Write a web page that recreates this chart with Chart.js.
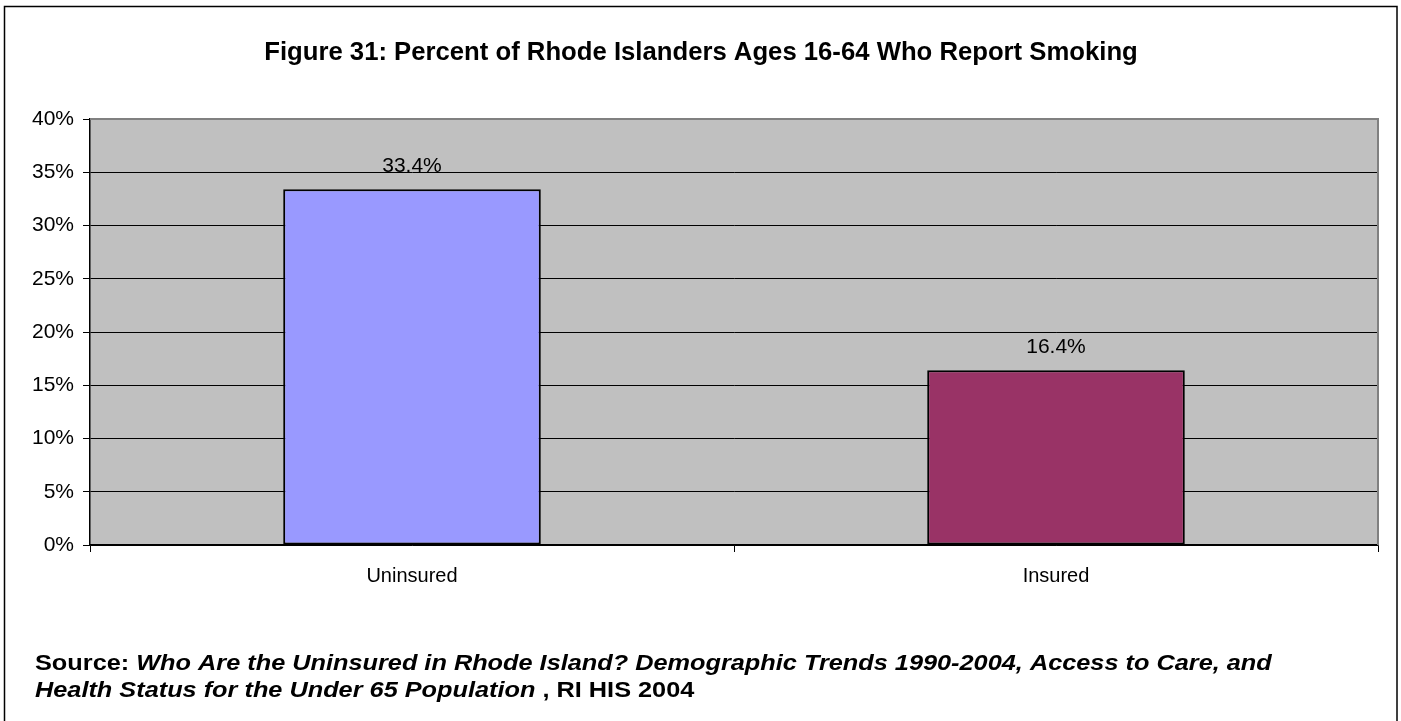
<!DOCTYPE html>
<html lang="en">
<head>
  <meta charset="UTF-8" />
  <title>Smoking by Insurance Status</title>
  <style>
    body {
      margin: 0;
      background-color: #ffffff;
    }
    #wrap {
      width: 1401px;
      height: 721px;
    }
  </style>
</head>
<body>
  <div id="wrap">
    <canvas id="smokingChart" width="1401" height="721"></canvas>
  </div>

  <script src="https://cdn.jsdelivr.net/npm/chart.js"></script>
  <script>
    const categories = ['Uninsured', 'Insured'];
    const smokingPct = [33.4, 16.4];
    const barColors = ['#9999FF', '#993366'];
    const yTicks = [0, 5, 10, 15, 20, 25, 30, 35, 40];

    const FONT = '"Liberation Sans", Arial, Helvetica, sans-serif';

    // gray plot background, outer frame, title and source note
    const frame = {
      id: 'frame',
      beforeDraw(chart) {
        const { ctx, chartArea: a } = chart;
        ctx.save();
        ctx.fillStyle = '#ffffff';
        ctx.fillRect(0, 0, chart.width, chart.height);
        ctx.fillStyle = '#C0C0C0';
        ctx.fillRect(a.left, a.top, a.right - a.left, a.bottom - a.top);
        ctx.restore();
      },
      beforeDatasetsDraw(chart) {
        const { ctx, chartArea: a } = chart;
        ctx.save();
        ctx.strokeStyle = '#808080';
        ctx.lineWidth = 2;
        ctx.beginPath();
        ctx.moveTo(a.left, a.top);
        ctx.lineTo(a.right, a.top);
        ctx.lineTo(a.right, a.bottom);
        ctx.stroke();
        ctx.restore();
      },
      afterDraw(chart) {
        const { ctx } = chart;
        ctx.save();
        ctx.strokeStyle = '#000000';
        ctx.lineWidth = 1.5;
        ctx.strokeRect(4.5, 6.5, 1392.5, 720);

        ctx.fillStyle = '#000000';
        ctx.textBaseline = 'middle';
        ctx.textAlign = 'center';
        ctx.font = 'bold 25.7px ' + FONT;
        ctx.fillText('Figure 31: Percent of Rhode Islanders Ages 16-64 Who Report Smoking', 701, 53);

        // source note, set slightly wide
        ctx.translate(35, 0);
        ctx.scale(1.15, 1);
        ctx.textAlign = 'left';
        let x = 0;
        ctx.font = 'bold 22px ' + FONT;
        ctx.fillText('Source: ', x, 664);
        x += ctx.measureText('Source: ').width;
        ctx.font = 'italic bold 22px ' + FONT;
        ctx.fillText('Who Are the Uninsured in Rhode Island? Demographic Trends 1990-2004, Access to Care, and', x, 664);

        x = 0;
        ctx.fillText('Health Status for the Under 65 Population', x, 691);
        x += ctx.measureText('Health Status for the Under 65 Population').width;
        ctx.font = 'bold 22px ' + FONT;
        ctx.fillText(' , RI HIS 2004', x, 691);
        ctx.restore();
      }
    };

    // value label above each bar
    const valueLabels = {
      id: 'valueLabels',
      afterDatasetsDraw(chart) {
        const { ctx } = chart;
        const meta = chart.getDatasetMeta(0);
        ctx.save();
        ctx.fillStyle = '#000000';
        ctx.font = '21px ' + FONT;
        ctx.textAlign = 'center';
        ctx.textBaseline = 'middle';
        meta.data.forEach((bar, i) => {
          ctx.fillText(smokingPct[i].toFixed(1) + '%', bar.x, bar.y - 23);
        });
        ctx.restore();
      }
    };

    new Chart(document.getElementById('smokingChart'), {
      type: 'bar',
      data: {
        labels: categories,
        datasets: [{
          data: smokingPct,
          backgroundColor: barColors,
          borderColor: '#000000',
          borderWidth: 2,
          borderSkipped: false,
          barPercentage: 0.4,
          categoryPercentage: 1.0
        }]
      },
      options: {
        responsive: false,
        animation: false,
        events: [],
        layout: { padding: { left: 0, right: 23, top: 119, bottom: 126 } },
        plugins: {
          legend: { display: false },
          tooltip: { enabled: false }
        },
        scales: {
          x: {
            offset: true,
            grid: {
              offset: true,
              drawOnChartArea: false,
              color: '#000000',
              tickLength: 7
            },
            border: { color: '#000000', width: 1.5 },
            ticks: {
              color: '#000000',
              font: { family: FONT, size: 20 },
              padding: 12
            },
            afterFit(scale) { scale.height = 50; }
          },
          y: {
            min: 0,
            max: 40,
            afterBuildTicks(scale) {
              scale.ticks = yTicks.map(v => ({ value: v }));
            },
            grid: {
              color: ctx => (ctx.tick && ctx.tick.value === 40 ? 'rgba(0,0,0,0)' : '#000000'),
              tickColor: '#000000',
              lineWidth: 1,
              tickLength: 7
            },
            border: { color: '#000000', width: 1.5 },
            ticks: {
              color: '#000000',
              font: { family: FONT, size: 21 },
              padding: 9,
              callback: v => v + '%'
            },
            afterFit(scale) { scale.width = 90; }
          }
        }
      },
      plugins: [frame, valueLabels]
    });
  </script>
</body>
</html>
